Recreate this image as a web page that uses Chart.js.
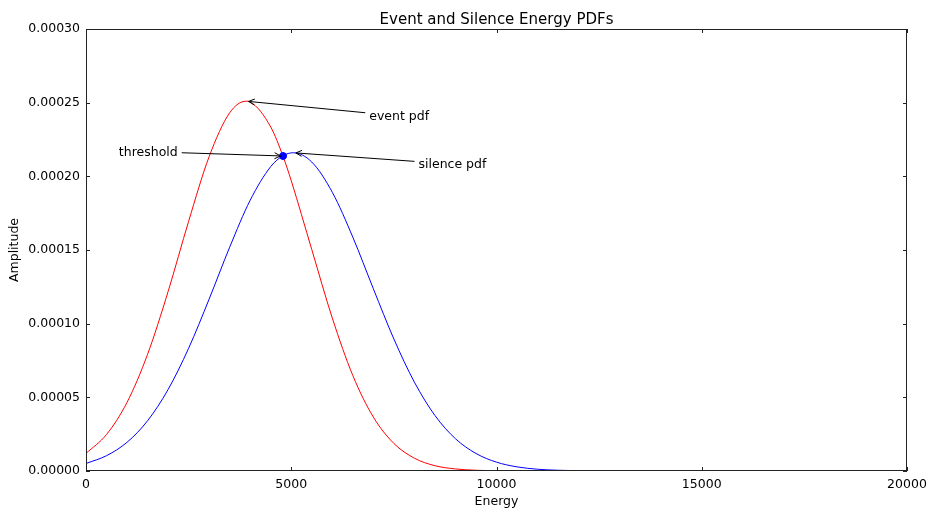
<!DOCTYPE html>
<html>
<head>
<meta charset="utf-8">
<script src="https://cdn.jsdelivr.net/npm/chart.js@4/dist/chart.umd.min.js"></script>
<style>
  html, body { margin: 0; padding: 0; background: #fff; }
</style>
</head>
<body>
<canvas id="pdfs" width="928" height="511"></canvas>
<script>
// energy bins and pdf values for both classes
const eventEnergy = [0, 500, 1000, 1500, 2000, 2500, 3000, 3500, 3900, 4000, 4500, 4800, 5000, 5500, 6000, 6500, 7000, 7500, 8000, 8500, 9000, 9500, 10000];
const eventPdf = [0.0000119, 0.0000248, 0.0000466, 0.0000792, 0.0001218, 0.0001695, 0.0002134, 0.0002431, 0.0002510, 0.0002505, 0.0002335, 0.0002136, 0.0001970, 0.0001503, 0.0001038, 0.0000648, 0.0000366, 0.0000187, 0.0000087, 0.0000036, 0.0000014, 0.0000005, 0.0000001];

const silenceEnergy = [0, 500, 1000, 1500, 2000, 2500, 3000, 3500, 4000, 4500, 4800, 5050, 5500, 6000, 6500, 7000, 7500, 8000, 8500, 9000, 9500, 10000, 10500, 11000, 11500, 12000, 12650];
const silencePdf = [0.0000051, 0.0000104, 0.0000195, 0.0000341, 0.0000553, 0.0000833, 0.0001167, 0.0001519, 0.0001838, 0.0002066, 0.0002140, 0.0002160, 0.0002097, 0.0001892, 0.0001587, 0.0001237, 0.0000896, 0.0000603, 0.0000377, 0.0000219, 0.0000119, 0.0000060, 0.0000028, 0.0000012, 0.0000005, 0.0000002, 0.0000000];

const thresholdEnergy = [4800];
const thresholdPdf = [0.0002138];

const xTicks = [0, 5000, 10000, 15000, 20000];
const yTicks = [0, 0.00005, 0.0001, 0.00015, 0.0002, 0.00025, 0.0003];

// text, point it refers to, text anchor (left / baseline), all in data units
const notes = [
  { text: 'event pdf', at: [3900, 0.000251], textAt: [6900, 0.000238] },
  { text: 'threshold', at: [thresholdEnergy[0], thresholdPdf[0]], textAt: [800, 0.0002138] },
  { text: 'silence pdf', at: [5050, 0.000216], textAt: [8100, 0.0002054] }
];

const FONT = '"DejaVu Sans", sans-serif';

const toPoints = (xs, ys) => xs.map((x, i) => ({ x: x, y: ys[i] }));

function drawNote(ctx, chart, note) {
  const xs = chart.scales.x, ys = chart.scales.y;
  const tx = xs.getPixelForValue(note.at[0]);
  const ty = ys.getPixelForValue(note.at[1]);
  const lx = xs.getPixelForValue(note.textAt[0]);
  const by = ys.getPixelForValue(note.textAt[1]);
  const size = 12.5;

  ctx.font = size + 'px ' + FONT;
  ctx.fillStyle = '#000';
  ctx.textAlign = 'left';
  ctx.textBaseline = 'alphabetic';
  const w = ctx.measureText(note.text).width;
  ctx.fillText(note.text, lx, by);

  // the arrow starts where the line from the text centre leaves its box
  const top = by - 0.93 * size, bottom = by + 0.24 * size;
  const cx = lx + w / 2, cy = (top + bottom) / 2;
  const dx = tx - cx, dy = ty - cy;
  let t = Infinity;
  if (dx) t = Math.min(t, (w / 2) / Math.abs(dx));
  if (dy) t = Math.min(t, ((bottom - top) / 2) / Math.abs(dy));
  const len = Math.hypot(dx, dy);
  const ux = dx / len, uy = dy / len;
  const sx = cx + dx * t + ux * 4, sy = cy + dy * t + uy * 4;
  const ex = tx - ux * 2.5, ey = ty - uy * 2.5;

  ctx.strokeStyle = '#000';
  ctx.lineWidth = 1;
  ctx.beginPath();
  ctx.moveTo(sx, sy);
  ctx.lineTo(ex, ey);
  const L = 6, W = 3;
  ctx.moveTo(ex - ux * L - uy * W, ey - uy * L + ux * W);
  ctx.lineTo(ex, ey);
  ctx.lineTo(ex - ux * L + uy * W, ey - uy * L - ux * W);
  ctx.stroke();
}

const axesDecor = {
  id: 'axesDecor',
  afterDraw(chart) {
    const ctx = chart.ctx;
    const a = chart.chartArea;
    const xs = chart.scales.x, ys = chart.scales.y;
    ctx.save();

    // frame
    ctx.strokeStyle = '#222';
    ctx.lineWidth = 1;
    ctx.strokeRect(Math.round(a.left) + 0.5, Math.round(a.top) + 0.5,
                   Math.round(a.right - a.left) - 1, Math.round(a.bottom - a.top) - 1);

    // inward tick marks on all four sides
    ctx.beginPath();
    xTicks.forEach(v => {
      const px = Math.round(xs.getPixelForValue(v)) + 0.5;
      ctx.moveTo(px, a.bottom); ctx.lineTo(px, a.bottom - 4);
      ctx.moveTo(px, a.top); ctx.lineTo(px, a.top + 4);
    });
    yTicks.forEach(v => {
      const py = Math.round(ys.getPixelForValue(v)) + 0.5;
      ctx.moveTo(a.left, py); ctx.lineTo(a.left + 4, py);
      ctx.moveTo(a.right, py); ctx.lineTo(a.right - 4, py);
    });
    ctx.stroke();

    // title over the plot area
    ctx.fillStyle = '#000';
    ctx.font = '15px ' + FONT;
    ctx.textAlign = 'center';
    ctx.textBaseline = 'alphabetic';
    ctx.fillText('Event and Silence Energy PDFs', (a.left + a.right) / 2, 24);

    notes.forEach(n => drawNote(ctx, chart, n));
    ctx.restore();
  }
};

Chart.defaults.font.family = FONT;
Chart.defaults.font.size = 12.5;
Chart.defaults.color = '#000';

new Chart(document.getElementById('pdfs'), {
  type: 'line',
  data: {
    datasets: [
      {
        label: 'threshold',
        data: toPoints(thresholdEnergy, thresholdPdf),
        showLine: false,
        pointRadius: 3.5,
        pointBackgroundColor: '#0000ff',
        pointBorderColor: '#0000ff',
        order: 0
      },
      {
        label: 'silence pdf',
        data: toPoints(silenceEnergy, silencePdf),
        borderColor: '#0000ff',
        borderWidth: 1,
        pointRadius: 0,
        fill: false,
        cubicInterpolationMode: 'monotone',
        order: 1
      },
      {
        label: 'event pdf',
        data: toPoints(eventEnergy, eventPdf),
        borderColor: '#ff0000',
        borderWidth: 1,
        pointRadius: 0,
        fill: false,
        cubicInterpolationMode: 'monotone',
        order: 2
      }
    ]
  },
  options: {
    responsive: false,
    animation: false,
    layout: { padding: { left: 0, right: 21, top: 29, bottom: 0 } },
    plugins: {
      legend: { display: false },
      tooltip: { enabled: false },
      title: { display: false }
    },
    scales: {
      x: {
        type: 'linear',
        min: 0,
        max: 20000,
        grid: { display: false, drawTicks: false },
        border: { display: false },
        afterBuildTicks: s => { s.ticks = xTicks.map(v => ({ value: v })); },
        afterFit: s => { s.height = 40; s.paddingLeft = 0; s.paddingRight = 0; },
        ticks: { padding: 6, maxRotation: 0, callback: v => String(v) },
        title: { display: true, text: 'Energy', padding: { top: 0, bottom: 2 } }
      },
      y: {
        type: 'linear',
        min: 0,
        max: 0.0003,
        grid: { display: false, drawTicks: false },
        border: { display: false },
        afterBuildTicks: s => { s.ticks = yTicks.map(v => ({ value: v })); },
        afterFit: s => { s.width = 86; s.paddingTop = 0; s.paddingBottom = 0; },
        ticks: { padding: 6, callback: v => v.toFixed(5) },
        title: { display: true, text: 'Amplitude', padding: { top: 7.5, bottom: 0 } }
      }
    }
  },
  plugins: [axesDecor]
});
</script>
</body>
</html>
